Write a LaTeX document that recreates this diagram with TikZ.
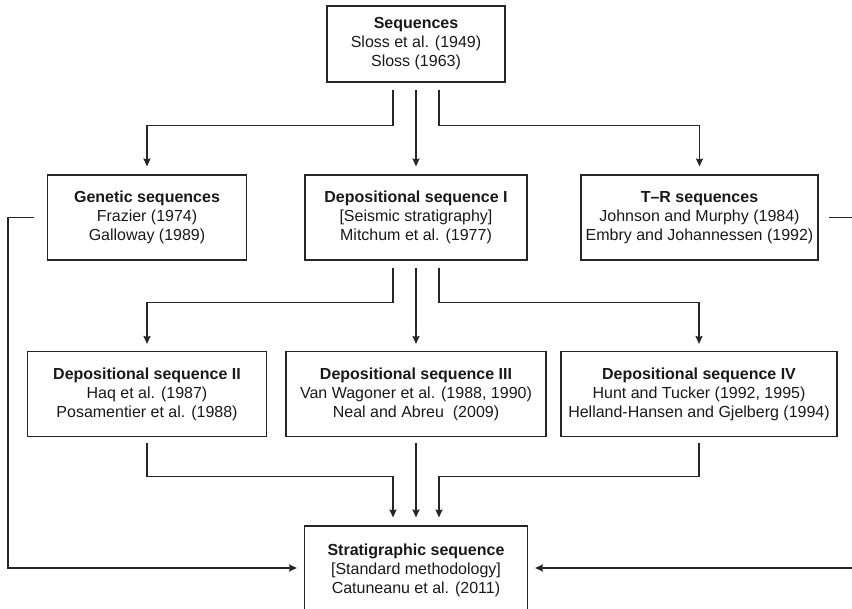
\documentclass[tikz,border=0pt]{standalone}
\usepackage{fontspec}
\setmainfont{Liberation Sans}
\usetikzlibrary{shapes,arrows.meta}
\tikzstyle{link} = [draw=black!85,line width=0.6pt,-{Stealth[length=4pt,width=3.6pt,inset=0.6pt]}]

\begin{document}
\begin{tikzpicture}
		[
		x=0.5pt,y=-0.5pt,
		block/.style={
		draw=black!85,
		line width=0.6pt,
		rectangle,
		align=center,
		inner sep=0pt,
		minimum height=42.5pt,
		text=black!90,
		font=\fontsize{8}{9.5}\selectfont}
		]
		\useasboundingbox (0,0) rectangle (852,609);
		\clip (0,0) rectangle (852,609);
		\node[block,minimum width=89pt,minimum height=38pt] (seq) at (416,44) {\textbf{Sequences}\\Sloss et al. (1949)\\Sloss (1963)};
		\node[block,minimum width=99.5pt] (gen) at (147,217.5) {\textbf{Genetic sequences}\\Frazier (1974)\\Galloway (1989)};
		\node[block,minimum width=111pt] (dep1) at (416,217.5) {\textbf{Depositional sequence I}\\{[Seismic stratigraphy]}\\Mitchum et al. (1977)};
		\node[block,minimum width=118.5pt] (tr) at (699.5,217.5) {\textbf{T–R sequences}\\Johnson and Murphy (1984)\\Embry and Johannessen (1992)};
		\node[block,minimum width=119.5pt] (dep2) at (147,394) {\textbf{Depositional sequence II}\\Haq et al. (1987)\\Posamentier et al. (1988)};
		\node[block,minimum width=130pt] (dep3) at (416,394) {\textbf{Depositional sequence III}\\Van Wagoner et al. (1988, 1990)\\Neal and Abreu~ (2009)};
		\node[block,minimum width=138pt] (dep4) at (699,394) {\textbf{Depositional sequence IV}\\Hunt and Tucker (1992, 1995)\\Helland-Hansen and Gjelberg (1994)};
		\node[block,minimum width=111.5pt,minimum height=44pt] (strat) at (416,570) {\textbf{Stratigraphic sequence}\\{[Standard methodology]}\\Catuneanu et al. (2011)};
		\coordinate (farleft) at (8,568);
		\coordinate (farright) at (880,568);

		\draw[link] ([xshift=-11.5pt,yshift=-3.5pt]seq.south) -- ++(0,36) -| ([yshift=4pt]gen.north);
		\draw[link] ([yshift=-3.5pt]seq.south) -- ([yshift=4pt]dep1.north);
		\draw[link] ([xshift=11.5pt,yshift=-3.5pt]seq.south) -- ++(0,36) -| ([yshift=4pt]tr.north);

		\draw[link] ([xshift=-11.5pt,yshift=-3.5pt]dep1.south) -- ++(0,35) -| ([yshift=3.5pt]dep2.north);
		\draw[link] ([yshift=-3.5pt]dep1.south) -- ([yshift=3.5pt]dep3.north);
		\draw[link] ([xshift=11.5pt,yshift=-3.5pt]dep1.south) -- ++(0,35) -| ([yshift=3.5pt]dep4.north);

		\draw[link] ([yshift=-3pt]dep2.south) -- ++(0,33) -| ([xshift=-11.5pt,yshift=4pt]strat.north);
		\draw[link] ([yshift=-3pt]dep3.south) -- ([yshift=4pt]strat.north);
		\draw[link] ([yshift=-3pt]dep4.south) -- ++(0,33) -| ([xshift=11.5pt,yshift=4pt]strat.north);

		\draw[link] ([xshift=-6.5pt]gen.west) -| (farleft) -- ([xshift=-3.5pt,yshift=1pt]strat.west);
		\draw[link] ([xshift=5pt]tr.east) -| (farright) -- ([xshift=3.5pt,yshift=1pt]strat.east);
		\end{tikzpicture}
\end{document}
